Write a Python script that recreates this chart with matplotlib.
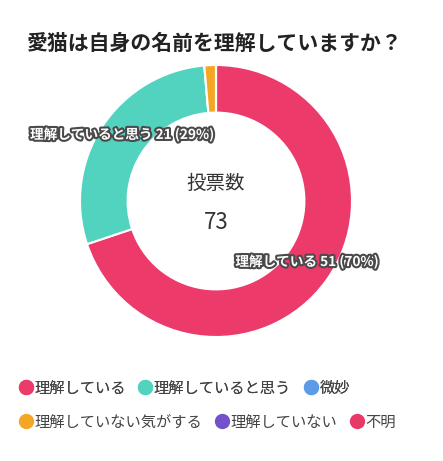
import numpy as np
import matplotlib
matplotlib.use("Agg")
import matplotlib.pyplot as plt
from matplotlib.lines import Line2D
import matplotlib.patheffects as pe

plt.rcParams['font.family'] = ['Noto Sans CJK JP', 'DejaVu Sans']

title = "愛猫は自身の名前を理解していますか？"
labels = ["理解している", "理解していると思う", "微妙",
          "理解していない気がする", "理解していない", "不明"]
votes = [51, 21, 0, 1, 0, 0]
colors = ["#ec3a6b", "#52d3c0", "#5e9be6", "#f5a623", "#7350cc", "#e83a66"]

total = sum(votes)

W, H = 443, 461
fig = plt.figure(figsize=(W / 100, H / 100), dpi=100)
fig.patch.set_facecolor("white")

# donut axes placed in pixel terms
cx, cy, r = 216, 201, 136
ax = fig.add_axes([(cx - r) / W, (H - cy - r) / H, 2 * r / W, 2 * r / H])
wedges, _ = ax.pie(votes, colors=colors, startangle=90, counterclock=False,
                   radius=1.0,
                   wedgeprops=dict(width=0.35, edgecolor="white", linewidth=1.5))
ax.set_xlim(-1, 1)
ax.set_ylim(-1, 1)
ax.axis("off")

# value labels on the ring
for w, lab, v in zip(wedges, labels, votes):
    if v / total < 0.05:
        continue
    ang = np.deg2rad((w.theta1 + w.theta2) / 2)
    rr = 0.825
    ax.text(rr * np.cos(ang), rr * np.sin(ang) + 0.035,
            f"{lab} {v} ({round(100 * v / total)}%)",
            ha="center", va="center", color="white", fontsize=9.8,
            fontweight="bold",
            path_effects=[pe.withStroke(linewidth=3, foreground="#4a4a4a")])

ax.text(0, 0.13, "投票数", ha="center", va="center", fontsize=14, color="#333333")
ax.text(0, -0.16, str(total), ha="center", va="center", fontsize=16, color="#333333")

fig.text(0.486, 1 - 43 / H, title, ha="center", va="center", fontsize=15,
         fontweight="bold", color="#222222")

# legend in two rows
def row(items, ypix):
    handles = [Line2D([], [], marker="o", linestyle="", markersize=10,
                      markerfacecolor=colors[i], markeredgecolor=colors[i])
               for i in items]
    leg = fig.legend(handles, [labels[i] for i in items], ncol=len(items),
                     loc="center left", bbox_to_anchor=(21 / W, 1 - ypix / H),
                     frameon=False, fontsize=11, handlelength=0.6,
                     handletextpad=0.25, columnspacing=1.0,
                     borderaxespad=0, borderpad=0)
    for t in leg.get_texts():
        t.set_color("#444444")
    return leg

l1 = row([0, 1, 2], 388)
fig.add_artist(l1)
row([3, 4, 5], 422)

fig.savefig("out.png", dpi=100)
